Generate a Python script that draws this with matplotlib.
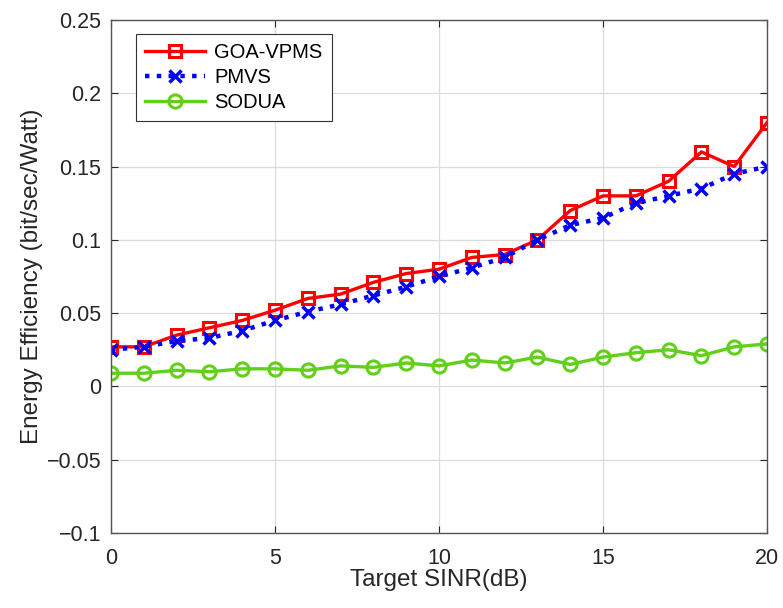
import numpy as np
import matplotlib.pyplot as plt

# target SINR (dB) and energy efficiency of each scheme
sinr_db = list(range(21))
goa_vpms = [0.027, 0.027, 0.035, 0.040, 0.045, 0.052, 0.060, 0.063, 0.071, 0.077, 0.080,
            0.088, 0.090, 0.100, 0.120, 0.130, 0.130, 0.140, 0.160, 0.150, 0.180]
pmvs = [0.025, 0.027, 0.031, 0.033, 0.038, 0.045, 0.051, 0.056, 0.062, 0.068, 0.075,
        0.081, 0.088, 0.100, 0.110, 0.115, 0.125, 0.130, 0.135, 0.145, 0.150]
sodua = [0.009, 0.009, 0.011, 0.010, 0.012, 0.012, 0.011, 0.014, 0.013, 0.016, 0.014,
         0.018, 0.016, 0.020, 0.015, 0.020, 0.023, 0.025, 0.021, 0.027, 0.029]

x_ticks = [0, 5, 10, 15, 20]
y_ticks = [-0.1, -0.05, 0, 0.05, 0.1, 0.15, 0.2, 0.25]
y_tick_labels = ['\u22120.1', '\u22120.05', '0', '0.05', '0.1', '0.15', '0.2', '0.25']

plt.rcParams['font.family'] = ['Liberation Sans', 'DejaVu Sans']
text_color = '#262626'

fig = plt.figure(figsize=(7.83, 6.08), dpi=100)
ax = fig.add_axes([0.1418, 0.1234, 0.8378, 0.8437])

ax.plot(sinr_db, goa_vpms, '-s', color='red', lw=2.4, ms=8.5, mew=2.2,
        mfc='none', label='GOA-VPMS')
ax.plot(sinr_db, pmvs, ':x', color='blue', lw=3.2, ms=8, mew=2.5,
        label='PMVS')
ax.plot(sinr_db, sodua, '-o', color='#62d01a', lw=2.4, ms=9.5, mew=2.2,
        mfc='none', label='SODUA')

ax.set_xlim(0, 20)
ax.set_ylim(-0.1, 0.25)
ax.set_xticks(x_ticks)
ax.set_yticks(y_ticks)
ax.set_yticklabels(y_tick_labels)
ax.tick_params(direction='in', top=True, right=True, labelsize=15.5,
               colors=text_color, length=5, width=0.8)
ax.tick_params(axis='x', pad=11)
ax.tick_params(axis='y', pad=7)
for spine in ax.spines.values():
    spine.set_color('#555555')
    spine.set_linewidth(1.0)
ax.grid(True, color='#dcdcdc', lw=0.9)
ax.set_axisbelow(True)

ax.set_xlabel('Target SINR(dB)', fontsize=17.5, color=text_color, labelpad=0)
ax.set_ylabel('Energy Efficiency (bit/sec/Watt)', fontsize=17.5, color=text_color, labelpad=3)

leg = ax.legend(loc='upper left', bbox_to_anchor=(0.038, 0.973), borderaxespad=0,
                fontsize=14.5, fancybox=False, framealpha=1, handlelength=3.0,
                handletextpad=0.45, borderpad=0.45, labelspacing=0.3)
leg.get_frame().set_edgecolor('#333333')
leg.get_frame().set_linewidth(0.8)

fig.savefig('out.png', dpi=100)
